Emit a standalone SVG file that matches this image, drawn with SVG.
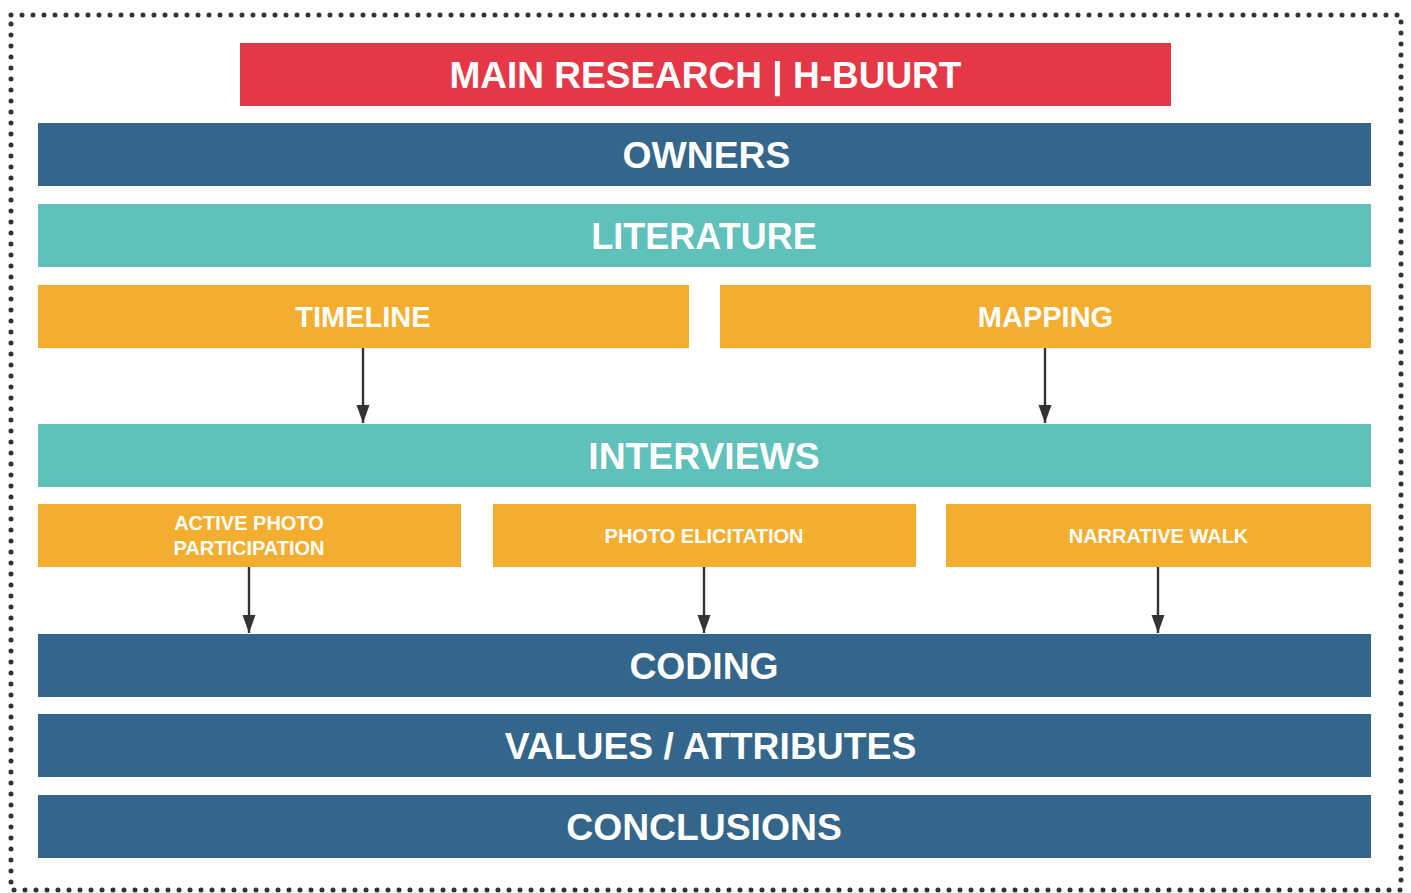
<svg xmlns="http://www.w3.org/2000/svg" width="1411" height="893" viewBox="0 0 1411 893">
<defs>
<style>
.t{font-family:"Liberation Sans",Arial,Helvetica,sans-serif;font-weight:bold;fill:#ffffff;text-anchor:middle}
.big{font-size:37.3px}
.mid{font-size:29px}
.sm{font-size:20px}
.red{fill:#E53847}
.blue{fill:#34658A}
.teal{fill:#60C0BA}
.org{fill:#F4AE2F}
.conn{stroke:#333333;stroke-width:2.4;fill:none}
</style>
<marker id="ah" viewBox="0 0 18 14" refX="18" refY="7" markerWidth="18" markerHeight="14" markerUnits="userSpaceOnUse" orient="auto">
<path d="M0,0.5 L18,7 L0,13.5 Z" fill="#333333"/>
</marker>
</defs>
<rect x="0" y="0" width="1411" height="893" fill="#ffffff"/>
<rect x="11" y="15" width="1390" height="875" fill="none" stroke="#333333" stroke-width="5" stroke-linecap="round" stroke-dasharray="0 11"/>
<g id="title"><rect class="red" x="240" y="43" width="931" height="63"/><text class="t" x="705.5" y="88" style="font-size:37px">MAIN RESEARCH | H-BUURT</text></g>
<g id="owners"><rect class="blue" x="38" y="123" width="1333" height="63"/><text class="t big" x="706.5" y="168">OWNERS</text></g>
<g id="literature"><rect class="teal" x="38" y="204" width="1333" height="63"/><text class="t" x="704" y="249" style="font-size:36px">LITERATURE</text></g>
<g id="timeline"><rect class="org" x="38" y="285" width="651" height="63"/><text class="t mid" x="363" y="327">TIMELINE</text></g>
<g id="mapping"><rect class="org" x="720" y="285" width="651" height="63"/><text class="t mid" x="1045.5" y="327">MAPPING</text></g>
<g id="interviews"><rect class="teal" x="38" y="424" width="1333" height="63"/><text class="t big" x="704" y="469">INTERVIEWS</text></g>
<g id="active"><rect class="org" x="38" y="504" width="423" height="63"/><text class="t sm" x="249" y="530">ACTIVE PHOTO</text><text class="t sm" x="249" y="555">PARTICIPATION</text></g>
<g id="elicitation"><rect class="org" x="493" y="504" width="423" height="63"/><text class="t sm" x="704" y="543">PHOTO ELICITATION</text></g>
<g id="walk"><rect class="org" x="946" y="504" width="425" height="63"/><text class="t sm" x="1158.5" y="543">NARRATIVE WALK</text></g>
<g id="coding"><rect class="blue" x="38" y="634" width="1333" height="63"/><text class="t big" x="704" y="679">CODING</text></g>
<g id="values"><rect class="blue" x="38" y="714" width="1333" height="63"/><text class="t big" x="710.5" y="759">VALUES / ATTRIBUTES</text></g>
<g id="conclusions"><rect class="blue" x="38" y="795" width="1333" height="63"/><text class="t big" x="704" y="840">CONCLUSIONS</text></g>
<g id="connectors">
<line class="conn" x1="363" y1="348" x2="363" y2="423" marker-end="url(#ah)"/>
<line class="conn" x1="1045" y1="348" x2="1045" y2="423" marker-end="url(#ah)"/>
<line class="conn" x1="249" y1="567" x2="249" y2="633" marker-end="url(#ah)"/>
<line class="conn" x1="704" y1="567" x2="704" y2="633" marker-end="url(#ah)"/>
<line class="conn" x1="1158" y1="567" x2="1158" y2="633" marker-end="url(#ah)"/>
</g>
</svg>
